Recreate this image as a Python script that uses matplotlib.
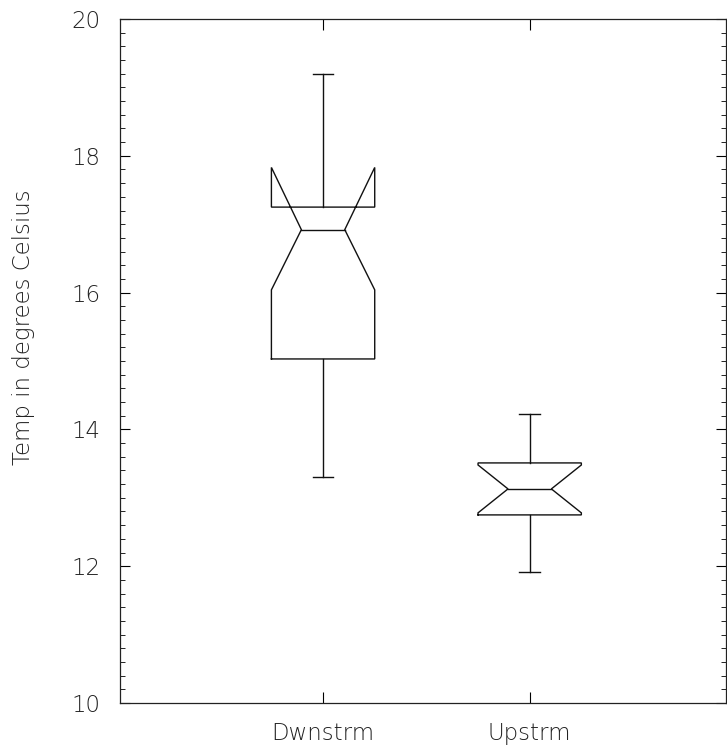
"""
Notched box plots of stream temperature, downstream vs upstream.
"""

import matplotlib

matplotlib.use("Agg")
import matplotlib.pyplot as plt
from matplotlib.ticker import MultipleLocator

# -- Summary statistics per site ------------------------------------------------
sites = ["Dwnstrm", "Upstrm"]
whisker_lo = [13.31, 11.91]
q1 = [15.03, 12.75]
median = [16.92, 13.13]
q3 = [17.25, 13.51]
whisker_hi = [19.19, 14.23]
notch_lo = [16.04, 12.78]
notch_hi = [17.83, 13.48]

BOX_WIDTH = 0.5
NOTCH_FRAC = 0.42  # width of the median waist relative to the box
CAP_WIDTH = 0.1
LINE = dict(color="#111111", lw=1.0, solid_joinstyle="miter")
TEXT = dict(family=["DejaVu Sans"], fontweight=200, fontsize=16.5,
            color="#222222")


def draw_notched_box(ax, pos, lo, b1, med, b3, hi, clo, chi):
    left, right = pos - BOX_WIDTH / 2, pos + BOX_WIDTH / 2
    nl, nr = pos - BOX_WIDTH * NOTCH_FRAC / 2, pos + BOX_WIDTH * NOTCH_FRAC / 2
    xs = [left, right, right, nr, right, right, left, left, nl, left, left]
    ys = [b1, b1, clo, med, chi, b3, b3, chi, med, clo, b1]
    ax.plot(xs, ys, **LINE)
    ax.plot([nl, nr], [med, med], **LINE)
    # whiskers and caps
    ax.plot([pos, pos], [b1, lo], **LINE)
    ax.plot([pos, pos], [b3, hi], **LINE)
    for y in (lo, hi):
        ax.plot([pos - CAP_WIDTH / 2, pos + CAP_WIDTH / 2], [y, y], **LINE)


fig = plt.figure(figsize=(7.27, 7.51), dpi=100)
ax = fig.add_axes([0.165, 0.0639, 0.8336, 0.9108])

for i, name in enumerate(sites):
    draw_notched_box(ax, i + 1, whisker_lo[i], q1[i], median[i], q3[i],
                     whisker_hi[i], notch_lo[i], notch_hi[i])

ax.set_xlim(0.017, 2.95)
ax.set_ylim(10, 20)
ax.set_xticks([1, 2])
ax.set_xticklabels(sites, **TEXT)
yt = list(range(10, 21, 2))
ax.set_yticks(yt)
ax.set_yticklabels([str(v) for v in yt], **TEXT)
ax.yaxis.set_minor_locator(MultipleLocator(0.2))

ax.tick_params(axis="y", which="major", direction="in", length=7, width=0.8,
               right=True, pad=14)
ax.tick_params(axis="y", which="minor", direction="in", length=3.5, width=0.6,
               right=True)
ax.tick_params(axis="x", which="major", direction="in", length=8, width=0.8,
               top=True, pad=14)

ax.set_ylabel("Temp in degrees Celsius", **TEXT)
ax.yaxis.set_label_coords(-0.14, 0.55)

for spine in ax.spines.values():
    spine.set_linewidth(0.9)
    spine.set_color("#222222")

fig.savefig("out.png", dpi=100)
